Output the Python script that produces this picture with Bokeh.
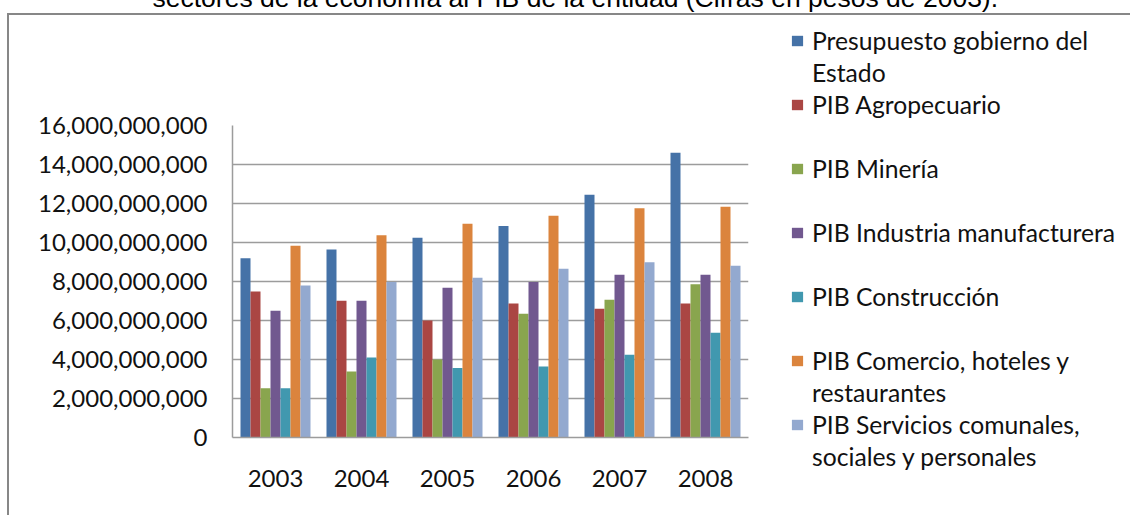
from bokeh.plotting import figure
from bokeh.models import (FactorRange, Range1d, FixedTicker, NumeralTickFormatter,
                          Legend, LegendItem, ColumnDataSource)
from bokeh.transform import dodge
from bokeh.embed import file_html
from bokeh.resources import INLINE

# ---------------- data ----------------
years = ["2003", "2004", "2005", "2006", "2007", "2008"]
# legend labels, one list of text lines per series (Excel wraps the long ones)
series_labels = [
    ["Presupuesto gobierno del", "Estado"],
    ["PIB Agropecuario"],
    ["PIB Minería"],
    ["PIB Industria manufacturera"],
    ["PIB Construcción"],
    ["PIB Comercio, hoteles y", "restaurantes"],
    ["PIB Servicios comunales,", "sociales y personales"],
]
presupuesto = [9190000000, 9640000000, 10240000000, 10840000000, 12450000000, 14600000000]
agropecuario = [7490000000, 7010000000, 6000000000, 6870000000, 6600000000, 6870000000]
mineria = [2530000000, 3380000000, 4000000000, 6340000000, 7060000000, 7860000000]
industria = [6500000000, 7010000000, 7680000000, 7980000000, 8340000000, 8340000000]
construccion = [2530000000, 4100000000, 3570000000, 3640000000, 4240000000, 5370000000]
comercio = [9830000000, 10370000000, 10960000000, 11370000000, 11760000000, 11830000000]
servicios = [7790000000, 7970000000, 8190000000, 8650000000, 8990000000, 8810000000]
y_ticks = [0, 2000000000, 4000000000, 6000000000, 8000000000,
           10000000000, 12000000000, 14000000000, 16000000000]
title_text = "sectores de la economía al PIB de la entidad (Cifras en pesos de 2003)."

colors = ["#4572A7", "#AA4643", "#89A54E", "#71588F", "#4198AF", "#DB843D", "#93A9CF"]
keys = ["presupuesto", "agropecuario", "mineria", "industria", "construccion", "comercio", "servicios"]
source = ColumnDataSource(dict(years=years, presupuesto=presupuesto, agropecuario=agropecuario,
                               mineria=mineria, industria=industria, construccion=construccion,
                               comercio=comercio, servicios=servicios))

AX_FONT = "Lato"
TXT = "#111111"
GRID = "#9c9c9c"

p = figure(x_range=FactorRange(*years), y_range=Range1d(0, 16000000000),
           frame_width=516, frame_height=312,
           min_border_left=232, min_border_top=125, min_border_bottom=78, min_border_right=382,
           output_backend="svg", toolbar_location=None)
# outer chart border (top and left edges, as visible in the source)
p.styles = {
    "background": ("linear-gradient(#878787,#878787) 7px 13px / 1123px 2px no-repeat, "
                   "linear-gradient(#878787,#878787) 7px 13px / 2px 502px no-repeat, white"),
}
p.border_fill_color = None
p.background_fill_color = "white"
p.outline_line_color = None

# title: in the source image it sits at the very top edge and is cut off there.
# Trailing empty lines give the title box enough height to reach the top edge.
p.title.text = title_text + "\n\n\n\n"
p.title.text_font = "Liberation Sans"
p.title.text_font_size = "26.5px"
p.title.text_font_style = "normal"
p.title.text_color = "#000000"
p.title.text_line_height = 1.075
p.title.align = "left"
p.title.offset = -80
p.title.vertical_align = "top"
p.title.standoff = -37

bw = 10 / 86
renderers = []
for i, (k, c) in enumerate(zip(keys, colors)):
    r = p.vbar(x=dodge("years", (i - 3) * bw, range=p.x_range), top=k, width=bw,
               source=source, fill_color=c, line_color=None)
    renderers.append(r)
# invisible swatch used for the wrapped continuation lines of the legend
blank = p.vbar(x=[], top=[], width=bw, fill_alpha=0, line_alpha=0)

# axes
p.yaxis.ticker = FixedTicker(ticks=y_ticks)
p.yaxis.formatter = NumeralTickFormatter(format="0,0")
for ax in (p.xaxis[0], p.yaxis[0]):
    ax.axis_line_color = GRID
    ax.axis_line_width = 1.5
    ax.major_tick_line_color = None
    ax.minor_tick_line_color = None
    ax.major_tick_out = 0
    ax.major_tick_in = 0
    ax.major_label_text_font = AX_FONT
    ax.major_label_text_font_size = "24px"
    ax.major_label_text_color = TXT
p.yaxis.major_label_standoff = 25
p.xaxis.major_label_standoff = 32
p.xgrid.grid_line_color = None
p.ygrid.grid_line_color = GRID
p.ygrid.grid_line_width = 1.5

# legend (right side panel); every entry takes two text rows like Excel's layout
items = []
for lines, r in zip(series_labels, renderers):
    items.append(LegendItem(label=lines[0], renderers=[r]))
    items.append(LegendItem(label=lines[1] if len(lines) > 1 else " ", renderers=[blank]))
legend = Legend(items=items, location=(42, -34), orientation="vertical",
                label_text_font=AX_FONT, label_text_font_size="24.7px", label_text_color=TXT,
                glyph_width=14, glyph_height=13, label_standoff=8, spacing=3,
                label_height=29,
                padding=0, margin=0, border_line_color=None, background_fill_alpha=0)
p.add_layout(legend, "right")

open("out.html", "w").write(file_html(p, INLINE))
